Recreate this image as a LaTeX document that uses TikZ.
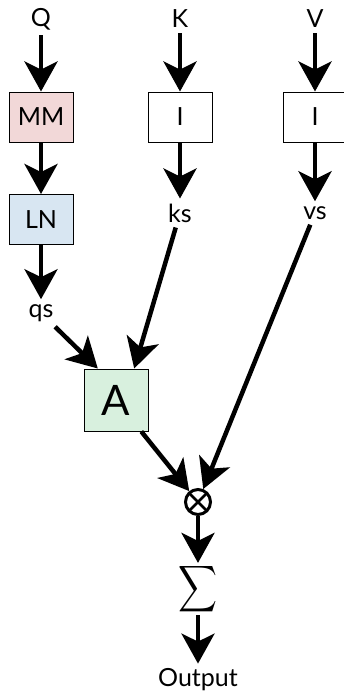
\documentclass[tikz,border=0pt]{standalone}
\usepackage{fontspec}
\setmainfont{Lato}
\usepackage{graphicx}
\usepackage{xcolor}
\usetikzlibrary{arrows.meta}
\usetikzlibrary{positioning}

\definecolor{mmpink}{RGB}{242,216,216}
\definecolor{lnblue}{RGB}{216,230,242}
\definecolor{attgreen}{RGB}{216,240,222}

\tikzset{
  box/.style={draw, line width=1pt, minimum width=64pt, minimum height=50pt,
    inner sep=0pt, font=\fontsize{25}{28}\selectfont},
  lbl/.style={inner sep=5pt, font=\fontsize{25}{28}\selectfont},
  flow/.style={line width=4.5pt, -{Stealth[length=30pt, width=33pt, inset=8pt]}},
}

\begin{document}
\begin{tikzpicture}[x=1pt, y=-1pt]
  \useasboundingbox (0, 0) rectangle (344, 693);

  % inputs
  \node[lbl] (Q) at (41, 19) {Q};
  \node[lbl] (K) at (180, 19) {K};
  \node[lbl] (V) at (315, 19) {V};

  % first row of boxes
  \node[box, fill=mmpink] (MM) at (41, 117) {MM};
  \node[box, fill=white] (Ik) at (180, 117) {I};
  \node[box, fill=white] (Iv) at (315, 117) {I};
  \node[box, fill=lnblue] (LN) at (41, 219.5) {LN};

  \node[lbl] (ks) at (180, 213) {ks};
  \node[lbl] (vs) at (315, 213) {vs};
  \node[lbl] (qs) at (41, 313) {qs};

  % attention
  \node[box, fill=attgreen, minimum height=62pt,
    font=\fontsize{42}{46}\selectfont] (A) at (116, 400) {A};

  \node[circle, draw, line width=3pt, minimum size=25pt, inner sep=0pt,
    path picture={
      \draw[line width=2.5pt]
        (path picture bounding box.north west) -- (path picture bounding box.south east)
        (path picture bounding box.north east) -- (path picture bounding box.south west);
    }] (prod) at (198, 502) {};

  \node[inner sep=0pt] (sum) at (198, 589) {\resizebox{39pt}{34pt}{$\displaystyle\sum$}};
  \node[lbl] (out) at (198, 680) {Output};

  \foreach \a/\b in {Q/MM, K/Ik, V/Iv, MM/LN, Ik/ks, Iv/vs, LN/qs,
                     A/prod, vs/prod, prod/sum, sum/out}
    \draw[flow] (\a) -- (\b);
  \draw[flow] (qs) -- (A.120);
  \draw[flow] (ks) -- (A.60);
\end{tikzpicture}
\end{document}
